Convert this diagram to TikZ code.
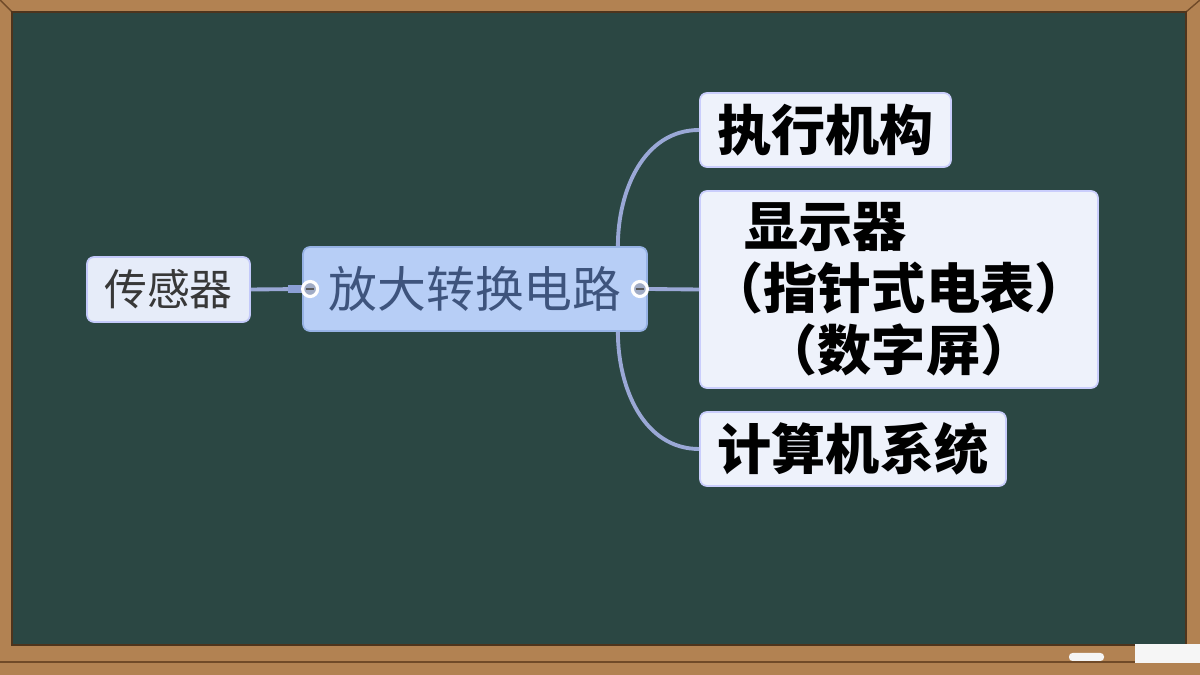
\documentclass[tikz,border=0pt]{standalone}
\usepackage{fontspec}
\newfontfamily\cjk{Noto Sans CJK SC}
\usetikzlibrary{calc}

\definecolor{board}{RGB}{43,71,67}
\definecolor{wood}{RGB}{178,130,82}
\definecolor{wooddark}{RGB}{112,74,40}
\definecolor{linkblue}{RGB}{154,168,214}
\definecolor{stubblue}{RGB}{140,160,214}
\definecolor{ampfill}{RGB}{183,206,246}
\definecolor{ampedge}{RGB}{150,178,228}
\definecolor{amptext}{RGB}{62,84,125}
\definecolor{leaffill}{RGB}{238,242,251}
\definecolor{sensfill}{RGB}{230,236,249}
\definecolor{knobfill}{RGB}{160,172,198}

\tikzset{
  box/.style={rounded corners=2pt, inner sep=0pt, line width=0.5pt},
  leaf/.style={box, fill=leaffill, draw=leaffill!85!blue, text=black,
    font=\cjk\bfseries\fontsize{15.4}{17.6}\selectfont},
  sensor/.style={box, fill=sensfill, draw=sensfill!85!blue, text=black!78,
    font=\cjk\fontsize{12.2}{14}\selectfont},
  centre/.style={box, fill=ampfill, draw=ampedge, text=amptext,
    font=\cjk\fontsize{13.9}{16}\selectfont},
  link/.style={draw=linkblue, line width=1.1pt},
  knob/.style={circle, fill=knobfill, draw=white, line width=0.9pt,
    minimum size=0.15cm, inner sep=0pt}
}

\begin{document}
\begin{tikzpicture}
  \useasboundingbox (0, 0) rectangle (12, 6.75);

  % wooden frame and board
  \fill[wood] (0, 0) rectangle (12, 6.75);
  \draw[wooddark, line width=0.4pt] (0, 6.75) -- (0.12, 6.63);
  \draw[wooddark, line width=0.4pt] (12, 6.75) -- (11.86, 6.63);
  \draw[wooddark, line width=0.4pt] (0, 0.13) -- (12, 0.13);
  \fill[board] (0.12, 0.30) rectangle (11.86, 6.63);
  \draw[wooddark!70!black, line width=0.6pt] (0.12, 0.30) rectangle (11.86, 6.63);
  \fill[white!92!gray, rounded corners=1pt] (10.69, 0.14) rectangle (11.04, 0.22);
  \fill[white!93!gray] (11.35, 0.12) rectangle (12, 0.31);

  % nodes
  \node[sensor, minimum width=1.63cm, minimum height=0.65cm] (sens) at (1.685, 3.855) {传感器};
  \node[centre, minimum width=3.44cm, minimum height=0.84cm] (amp) at (4.75, 3.86) {放大转换电路};
  \node[leaf, minimum width=2.51cm, minimum height=0.74cm] (exec) at (8.255, 5.45) {执行机构};
  \node[leaf, minimum width=3.98cm, minimum height=1.97cm, align=left] (disp) at (8.99, 3.855)
    {\hspace*{0.65em}显示器\\（指针式电表）\\\hspace*{1em}（数字屏）};
  \node[leaf, minimum width=3.06cm, minimum height=0.74cm] (comp) at (8.53, 2.26) {计算机系统};

  % connectors
  \draw[link] (sens.east) -- (amp.west);
  \draw[draw=stubblue, line width=2pt] ($(amp.west)+(-0.14,0)$) -- (amp.west);
  \draw[link] (amp.east) -- (disp.west);
  \draw[link] ($(amp.north east)+(-0.30,0)$) to[out=90, in=180] (exec.west);
  \draw[link] ($(amp.south east)+(-0.30,0)$) to[out=-90, in=180] (comp.west);

  % collapse knobs
  \foreach \side/\dx in {west/0.08, east/-0.08} {
    \node[knob] (knob-\side) at ($(amp.\side)+(\dx,0)$) {};
    \draw[black!65, line width=0.8pt] ($(knob-\side.center)+(-0.04,0)$) -- ($(knob-\side.center)+(0.04,0)$);
  }
\end{tikzpicture}
\end{document}
